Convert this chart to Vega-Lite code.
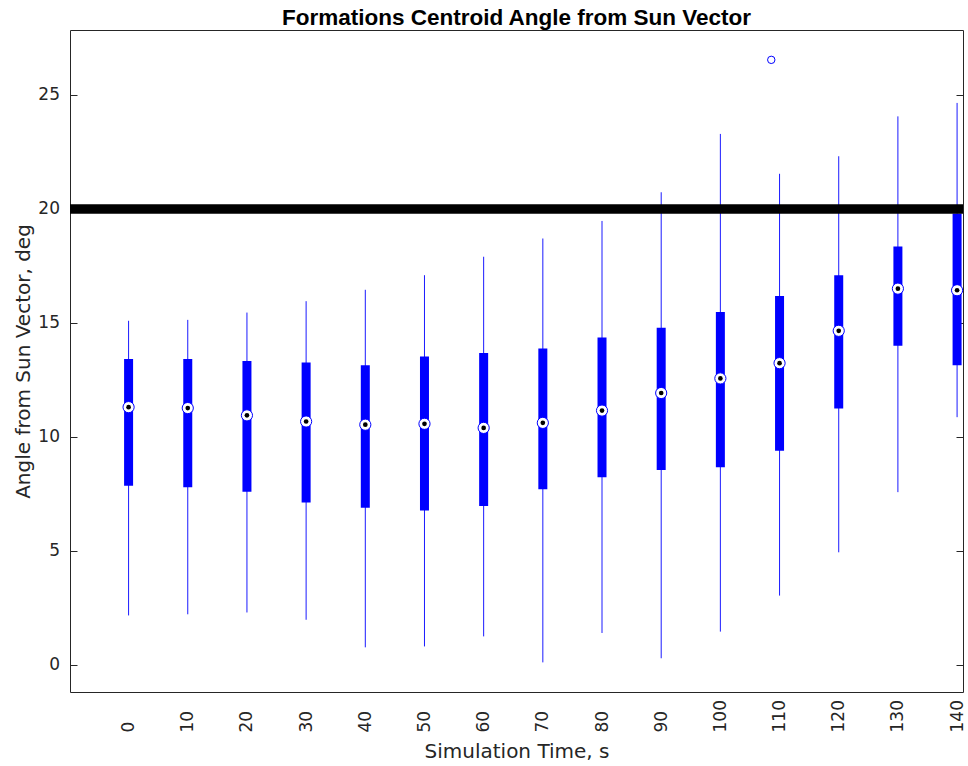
{
  "$schema": "https://vega.github.io/schema/vega-lite/v6.json",
  "width": 893,
  "height": 662,
  "autosize": {"type": "none"},
  "padding": {"left": 70, "top": 30, "right": 5, "bottom": 74},
  "background": "white",
  "title": {
    "text": "Formations Centroid Angle from Sun Vector",
    "font": "Liberation Sans",
    "fontSize": 22.5,
    "fontWeight": "bold",
    "color": "black",
    "anchor": "middle",
    "offset": 1
  },
  "datasets": {
    "boxes": [
      {"t": 0, "lo": 2.16, "q1": 7.85, "med": 11.30, "q3": 13.41, "hi": 15.09},
      {"t": 10, "lo": 2.21, "q1": 7.78, "med": 11.26, "q3": 13.41, "hi": 15.13},
      {"t": 20, "lo": 2.29, "q1": 7.59, "med": 10.94, "q3": 13.33, "hi": 15.45},
      {"t": 30, "lo": 1.97, "q1": 7.12, "med": 10.67, "q3": 13.26, "hi": 15.95},
      {"t": 40, "lo": 0.76, "q1": 6.89, "med": 10.53, "q3": 13.14, "hi": 16.45},
      {"t": 50, "lo": 0.80, "q1": 6.77, "med": 10.57, "q3": 13.52, "hi": 17.09},
      {"t": 60, "lo": 1.24, "q1": 6.96, "med": 10.39, "q3": 13.68, "hi": 17.90},
      {"t": 70, "lo": 0.10, "q1": 7.70, "med": 10.61, "q3": 13.87, "hi": 18.70},
      {"t": 80, "lo": 1.39, "q1": 8.22, "med": 11.15, "q3": 14.36, "hi": 19.47},
      {"t": 90, "lo": 0.28, "q1": 8.54, "med": 11.92, "q3": 14.78, "hi": 20.73},
      {"t": 100, "lo": 1.45, "q1": 8.66, "med": 12.56, "q3": 15.48, "hi": 23.29},
      {"t": 110, "lo": 3.03, "q1": 9.39, "med": 13.23, "q3": 16.18, "hi": 21.54},
      {"t": 120, "lo": 4.93, "q1": 11.24, "med": 14.65, "q3": 17.09, "hi": 22.31},
      {"t": 130, "lo": 7.57, "q1": 13.99, "med": 16.50, "q3": 18.35, "hi": 24.06},
      {"t": 140, "lo": 10.86, "q1": 13.14, "med": 16.43, "q3": 19.80, "hi": 24.65}
    ],
    "outliers": [
      {"t": 108.6, "v": 26.54}
    ],
    "limit": [
      {"v": 20}
    ]
  },
  "layer": [
    {
      "data": {"name": "boxes"},
      "mark": {"type": "rule", "color": "#1a1aff", "strokeWidth": 1},
      "encoding": {
        "x": {"field": "t", "type": "quantitative", "scale": {"domain": [-9.9, 141], "nice": false, "zero": false, "padding": 0},
              "axis": {"values": [0, 10, 20, 30, 40, 50, 60, 70, 80, 90, 100, 110, 120, 130, 140], "title": "Simulation Time, s",
                       "labelAngle": -90, "labelAlign": "left", "labelBaseline": "middle", "labelPadding": 40}},
        "y": {"field": "lo", "type": "quantitative", "scale": {"domain": [-1.2, 27.85], "nice": false, "zero": false},
              "axis": {"orient": "left", "values": [0, 5, 10, 15, 20, 25], "title": "Angle from Sun Vector, deg",
                       "tickSize": -7, "labelPadding": 17.5, "titleX": -41, "titleY": 331, "titleAngle": -90,
                       "titleBaseline": "alphabetic", "titleAlign": "center"}},
        "y2": {"field": "hi"}
      }
    },
    {
      "data": {"name": "boxes"},
      "mark": {"type": "bar", "color": "#0000ff", "size": 9},
      "encoding": {
        "x": {"field": "t", "type": "quantitative", "scale": {"domain": [-9.9, 141], "nice": false, "zero": false, "padding": 0},
              "axis": {"values": [0, 10, 20, 30, 40, 50, 60, 70, 80, 90, 100, 110, 120, 130, 140], "title": "Simulation Time, s",
                       "labelAngle": -90, "labelAlign": "left", "labelBaseline": "middle", "labelPadding": 40}},
        "y": {"field": "q1", "type": "quantitative", "axis": null},
        "y2": {"field": "q3"}
      }
    },
    {
      "data": {"name": "limit"},
      "mark": {"type": "rule", "color": "black", "strokeWidth": 9.5},
      "encoding": {
        "y": {"field": "v", "type": "quantitative",
              "axis": {"orient": "right", "values": [0, 5, 10, 15, 20, 25], "labels": false, "title": null, "tickSize": -7}}
      }
    },
    {
      "data": {"name": "boxes"},
      "mark": {"type": "point", "shape": "circle", "filled": true, "fill": "white", "stroke": "#0000ff", "strokeWidth": 1, "size": 125, "opacity": 1},
      "encoding": {
        "x": {"field": "t", "type": "quantitative", "scale": {"domain": [-9.9, 141], "nice": false, "zero": false, "padding": 0},
              "axis": {"values": [0, 10, 20, 30, 40, 50, 60, 70, 80, 90, 100, 110, 120, 130, 140], "title": "Simulation Time, s",
                       "labelAngle": -90, "labelAlign": "left", "labelBaseline": "middle", "labelPadding": 40}},
        "y": {"field": "med", "type": "quantitative", "axis": null}
      }
    },
    {
      "data": {"name": "boxes"},
      "mark": {"type": "point", "shape": "circle", "filled": true, "color": "black", "size": 22, "opacity": 1},
      "encoding": {
        "x": {"field": "t", "type": "quantitative", "scale": {"domain": [-9.9, 141], "nice": false, "zero": false, "padding": 0},
              "axis": {"values": [0, 10, 20, 30, 40, 50, 60, 70, 80, 90, 100, 110, 120, 130, 140], "title": "Simulation Time, s",
                       "labelAngle": -90, "labelAlign": "left", "labelBaseline": "middle", "labelPadding": 40}},
        "y": {"field": "med", "type": "quantitative", "axis": null}
      }
    },
    {
      "data": {"name": "outliers"},
      "mark": {"type": "point", "shape": "circle", "filled": false, "stroke": "#0000ff", "strokeWidth": 1, "size": 55, "opacity": 1},
      "encoding": {
        "x": {"field": "t", "type": "quantitative", "scale": {"domain": [-9.9, 141], "nice": false, "zero": false, "padding": 0},
              "axis": {"values": [0, 10, 20, 30, 40, 50, 60, 70, 80, 90, 100, 110, 120, 130, 140], "title": "Simulation Time, s",
                       "labelAngle": -90, "labelAlign": "left", "labelBaseline": "middle", "labelPadding": 40}},
        "y": {"field": "v", "type": "quantitative", "axis": null}
      }
    }
  ],
  "resolve": {"axis": {"y": "independent"}},
  "config": {
    "view": {"stroke": "#262626", "strokeWidth": 1},
    "axis": {
      "grid": false,
      "domain": false,
      "labelFont": "DejaVu Sans",
      "labelFontSize": 17,
      "labelColor": "#262626",
      "tickColor": "#262626",
      "tickWidth": 1,
      "titleFont": "DejaVu Sans",
      "titleFontSize": 20,
      "titleFontWeight": "normal",
      "titleColor": "#262626"
    },
    "axisX": {
      "ticks": false,
      "titleBaseline": "alphabetic",
      "titleY": 65.5
    }
  }
}
